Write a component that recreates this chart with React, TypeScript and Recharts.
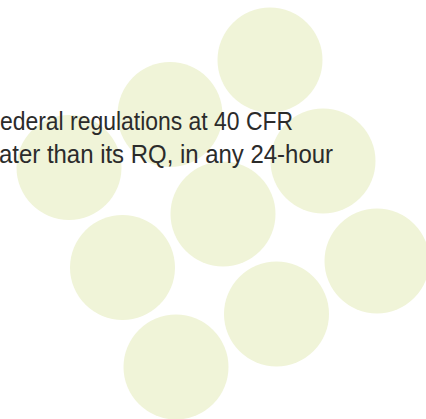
import React from "react";
import { ScatterChart, Scatter, XAxis, YAxis } from "recharts";

// circle centres (pixel-like units)
const centerX = [270, 170, 69, 323, 223, 122.5, 377, 276.5, 176];
const centerY = [60, 114.5, 167.5, 161, 214, 267.5, 261, 314, 367];
const textLines = ["ederal regulations at 40 CFR", "ater than its RQ, in any 24-hour"];

const points = centerX.map((x, i) => ({ x, y: centerY[i] }));

const W = 426;
const H = 419;
const R = 52.5;

const Bubble = (props: any) => {
  const { cx, cy } = props;
  return <circle cx={cx} cy={cy} r={R} fill="#f0f4d8" />;
};

export default function App() {
  return (
    <div style={{ position: "absolute", left: 0, top: 0, width: W, height: H, background: "#fff", overflow: "hidden" }}>
      <ScatterChart width={W} height={H} margin={{ top: 0, right: 0, bottom: 0, left: 0 }}>
        <XAxis type="number" dataKey="x" domain={[0, W]} hide />
        <YAxis type="number" dataKey="y" domain={[0, H]} reversed hide />
        <Scatter data={points} shape={Bubble} isAnimationActive={false} />
      </ScatterChart>
      <svg width={W} height={H} style={{ position: "absolute", left: 0, top: 0 }}>
        <g fontFamily="'Liberation Sans Narrow', 'Arial Narrow', sans-serif" fontSize={25} fill="#2b2b2b">
          <text x={0} y={129.5} textLength={293} lengthAdjust="spacingAndGlyphs">{textLines[0]}</text>
          <text x={-1} y={162.5} textLength={334} lengthAdjust="spacingAndGlyphs">{textLines[1]}</text>
        </g>
      </svg>
    </div>
  );
}
